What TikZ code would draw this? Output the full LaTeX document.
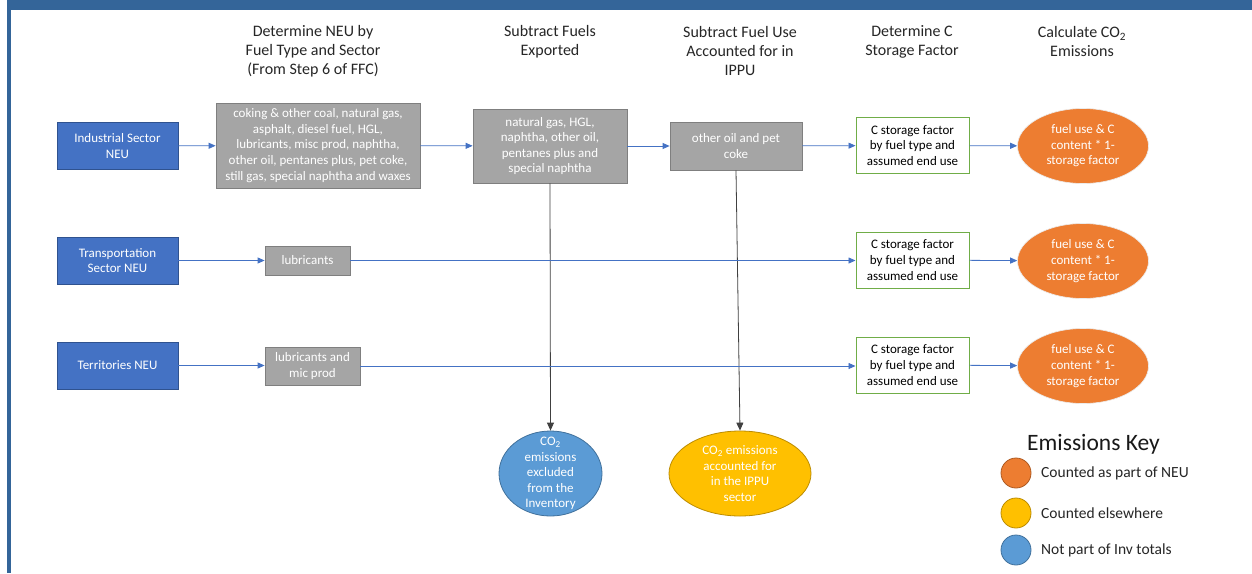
\documentclass[tikz,border=0pt]{standalone}
\usepackage{fontspec}
\setmainfont{Carlito}
\usetikzlibrary{shapes.geometric,arrows.meta}
\definecolor{framec}{RGB}{52,101,153}
\definecolor{secblue}{HTML}{4472C4}
\definecolor{secblueb}{HTML}{2F528F}
\definecolor{grayf}{HTML}{A5A5A5}
\definecolor{grayb}{HTML}{7F7F7F}
\definecolor{greenb}{HTML}{70AD47}
\definecolor{orangef}{HTML}{ED7D31}
\definecolor{orangeb}{HTML}{AE5A21}
\definecolor{lblue}{HTML}{5B9BD5}
\definecolor{lblueb}{HTML}{41719C}
\definecolor{yellowf}{HTML}{FFC000}
\definecolor{yellowb}{HTML}{BC8C00}
\definecolor{arrowc}{HTML}{4472C4}
\tikzset{
  boxtext/.style={font=\fontsize{13}{15.6}\selectfont, align=center, inner sep=0pt},
  sector/.style={boxtext, rectangle, fill=secblue, draw=secblueb, line width=0.8pt, text=white, minimum width=121pt, minimum height=47pt},
  fuelbox/.style={boxtext, rectangle, fill=grayf, draw=grayb, line width=0.8pt, text=white},
  storebox/.style={boxtext, rectangle, fill=white, draw=greenb, line width=1pt, text=black, minimum width=113pt, minimum height=56pt},
  emis/.style={boxtext, ellipse, fill=orangef, draw=white!85!gray, line width=0.6pt, text=white, minimum width=131pt, minimum height=75pt},
  header/.style={font=\fontsize{16}{19}\selectfont, align=center, inner sep=0pt, text=black!85},
  flow/.style={draw=arrowc, line width=0.8pt, -{Triangle[length=7pt,width=6pt]}},
  drop/.style={draw=black!75, line width=0.8pt, -{Triangle[length=8pt,width=7pt]}},
  keydot/.style={circle, minimum size=30pt, inner sep=0pt, line width=0.8pt},
  keytext/.style={font=\fontsize{15.5}{18}\selectfont, anchor=west, inner sep=0pt, text=black!85}
}
\begin{document}
\begin{tikzpicture}[x=1pt,y=-1pt]
\useasboundingbox (0,0) rectangle (1252,573);
\fill[white] (0,0) rectangle (1252,573);
\fill[framec] (7,0) rectangle (1252,10);
\fill[framec] (7,0) rectangle (11,573);

% headers
\node[header] (h1) at (313,51) {Determine NEU by\\Fuel Type and Sector\\(From Step 6 of FFC)};
\node[header] (h2) at (550,41.5) {Subtract Fuels\\Exported};
\node[header] (h3) at (740,51) {Subtract Fuel Use\\Accounted for in\\IPPU};
\node[header] (h4) at (912,41.5) {Determine C\\Storage Factor};
\node[header] (h5) at (1082,41.5) {Calculate CO\textsubscript{2}\\Emissions};

% sectors
\node[sector] (ind) at (117.5,146) {Industrial Sector\\NEU};
\node[sector] (tra) at (117.5,260.5) {Transportation\\Sector NEU};
\node[sector] (ter) at (117.5,365.5) {Territories NEU};

% fuel boxes
\node[fuelbox, minimum width=204pt, minimum height=85pt] (f1) at (318,145.5) {coking \& other coal, natural gas,\\asphalt, diesel fuel, HGL,\\lubricants, misc prod, naphtha,\\other oil, pentanes plus, pet coke,\\still gas, special naphtha and waxes};
\node[fuelbox, minimum width=154pt, minimum height=74pt] (f2) at (550,146) {natural gas, HGL,\\naphtha, other oil,\\pentanes plus and\\special naphtha};
\node[fuelbox, minimum width=132pt, minimum height=48pt] (f3) at (736,146) {other oil and pet\\coke};
\node[fuelbox, minimum width=85pt, minimum height=29pt] (lub) at (307.5,260.5) {lubricants};
\node[fuelbox, minimum width=95pt, minimum height=38pt] (lubm) at (312.5,366) {lubricants and\\mic prod};

% storage factor boxes
\node[storebox] (s1) at (912.5,145.5) {C storage factor\\by fuel type and\\assumed end use};
\node[storebox] (s2) at (912.5,260) {C storage factor\\by fuel type and\\assumed end use};
\node[storebox] (s3) at (912.5,365) {C storage factor\\by fuel type and\\assumed end use};

% emission ellipses
\node[emis] (e1) at (1083,146) {fuel use \& C\\content * 1-\\storage factor};
\node[emis] (e2) at (1083,261) {fuel use \& C\\content * 1-\\storage factor};
\node[emis] (e3) at (1083,366) {fuel use \& C\\content * 1-\\storage factor};

% bottom ellipses
\node[ellipse, fill=lblue, draw=lblueb, line width=0.8pt, inner sep=0pt, minimum width=103pt, minimum height=85pt] (exc) at (550.5,473.5) {};
\node[boxtext, text=white] (exct) at (exc.center) {CO\textsubscript{2}\\emissions\\excluded\\from the\\Inventory};
\node[ellipse, fill=yellowf, draw=yellowb, line width=0.8pt, inner sep=0pt, minimum width=142pt, minimum height=85pt] (ippu) at (740,473.5) {};
\node[boxtext, text=white] (ippt) at (ippu.center) {CO\textsubscript{2} emissions\\accounted for\\in the IPPU\\sector};

% connectors
\draw[drop] (f2.south) -- (exc.north);
\draw[drop] (f3.south) -- (ippu.north);
\draw[flow] (ind) -- (f1);
\draw[flow] (f1) -- (f2);
\draw[flow] (f2) -- (f3);
\draw[flow] (f3) -- (s1);
\draw[flow] (s1) -- (e1);
\draw[flow] (tra) -- (lub);
\draw[flow] (lub) -- (lub -| s2.west);
\draw[flow] (s2) -- (e2);
\draw[flow] (ter) -- (ter -| lubm.west);
\draw[flow] (lubm) -- (lubm -| s3.west);
\draw[flow] (s3) -- (e3);

% key
\node[font=\fontsize{23.5}{26}\selectfont, inner sep=0pt, text=black!90] (kt) at (1093.5,444) {Emissions Key};
\node[keydot, fill=orangef, draw=orangeb] (k1) at (1016,473) {};
\node[keydot, fill=yellowf, draw=yellowb] (k2) at (1016,513) {};
\node[keydot, fill=lblue, draw=lblueb] (k3) at (1016,550) {};
\node[keytext] (kl1) at (1041,473) {Counted as part of NEU};
\node[keytext] (kl2) at (1041,513) {Counted elsewhere};
\node[keytext] (kl3) at (1041,550) {Not part of Inv totals};
\end{tikzpicture}
\end{document}
